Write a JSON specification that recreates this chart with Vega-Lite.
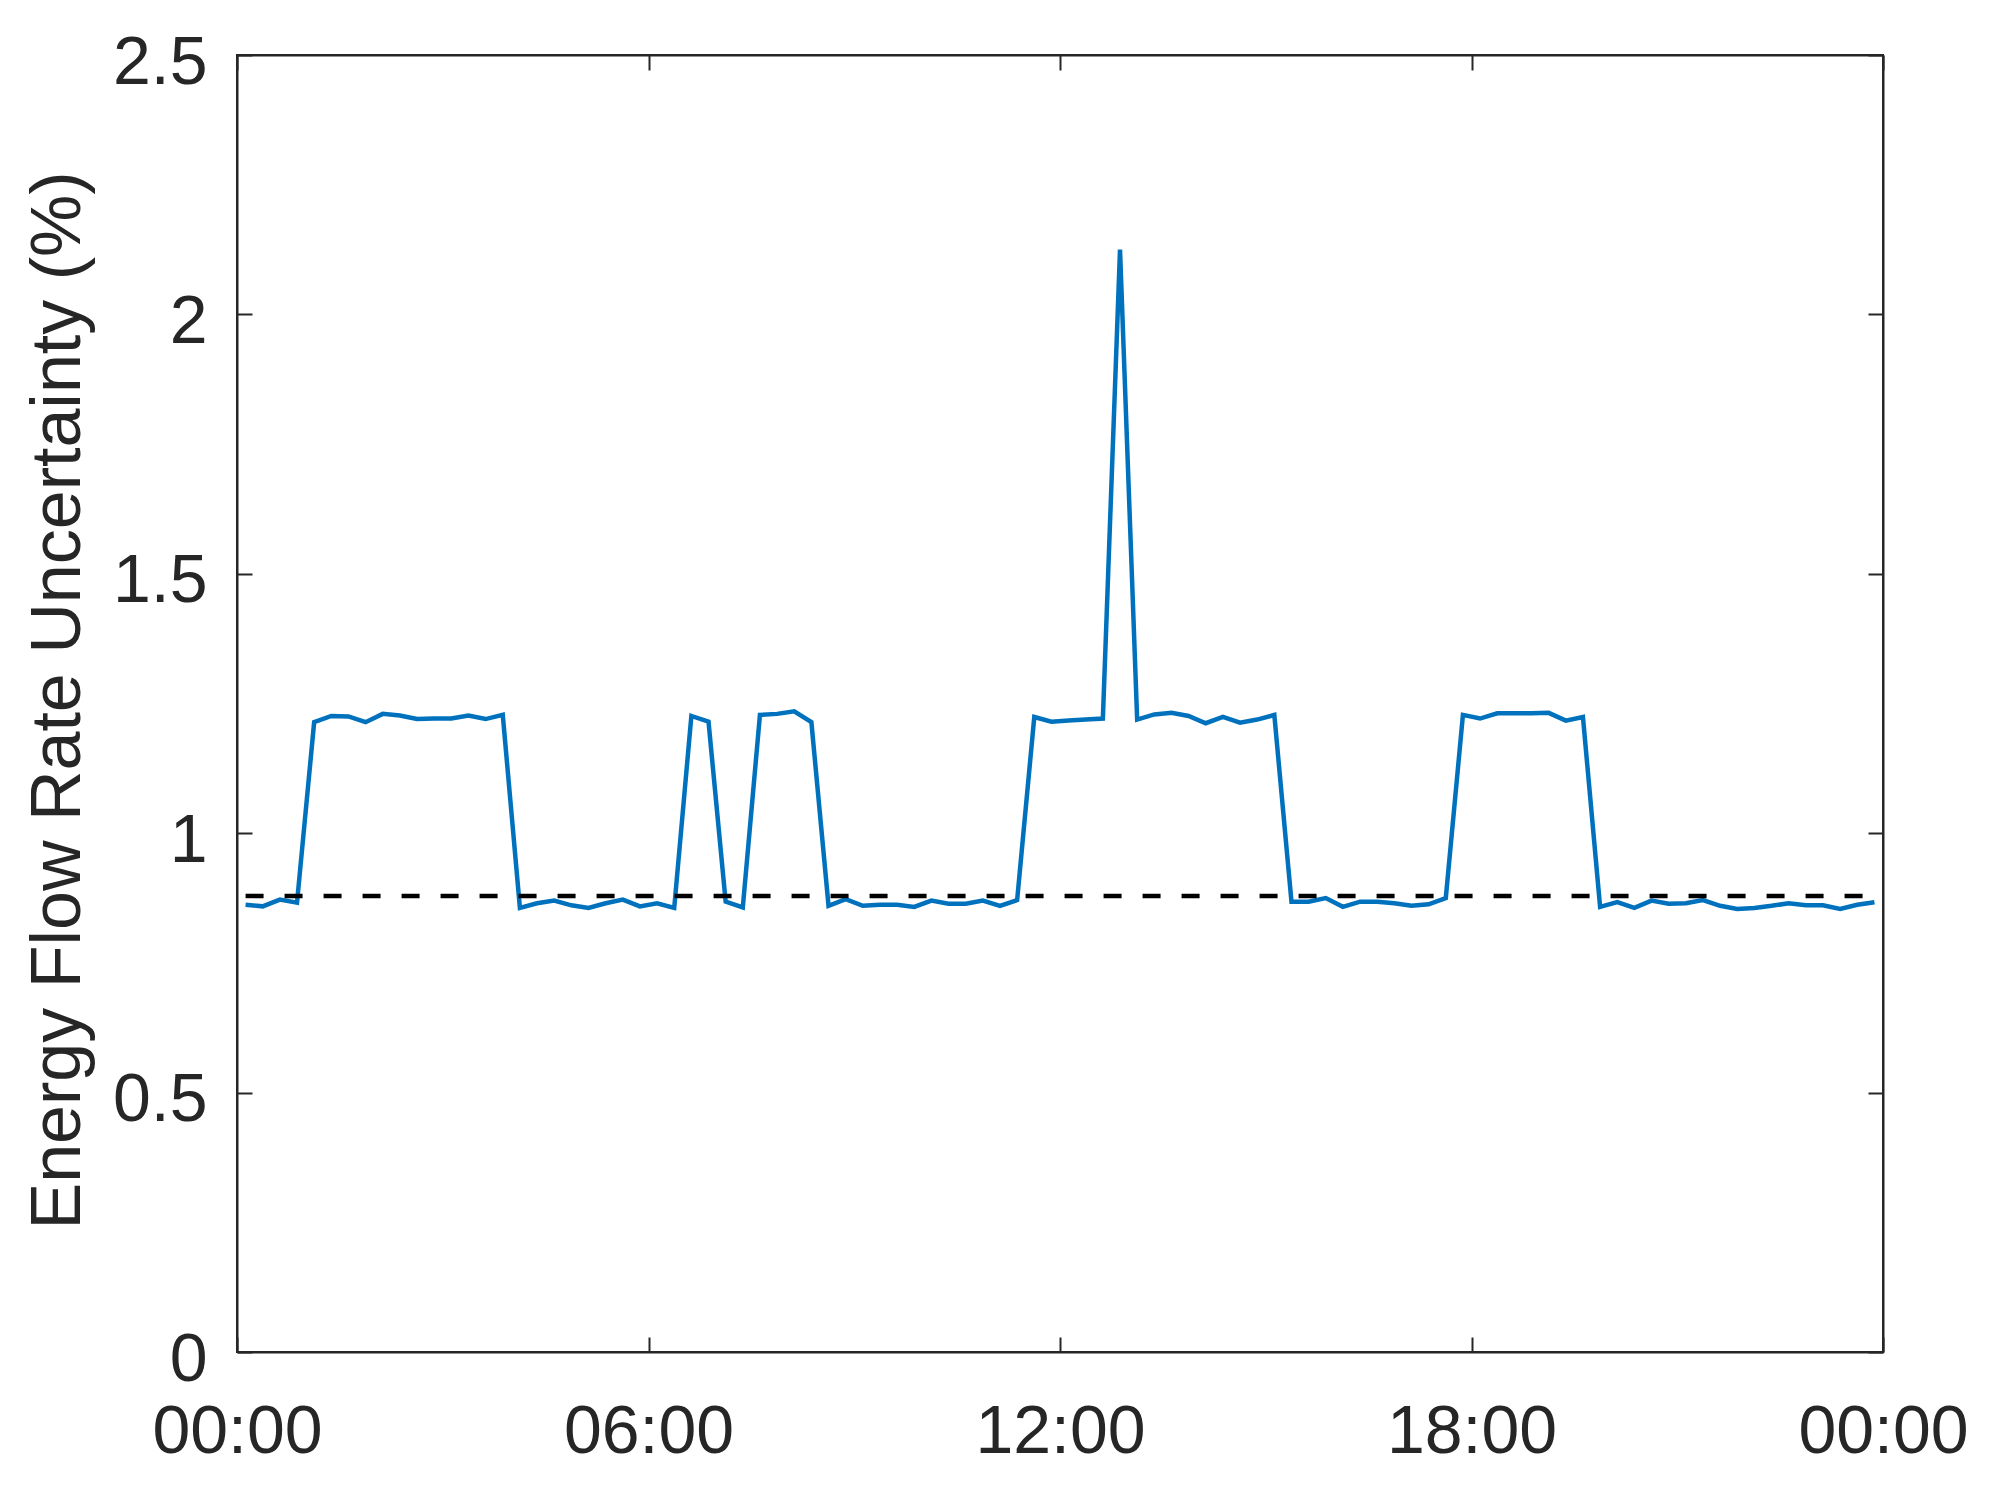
{
  "$schema": "https://vega.github.io/schema/vega-lite/v6.json",
  "width": 1646,
  "height": 1297,
  "autosize": {"type": "none"},
  "padding": {"left": 237, "top": 55, "right": 113, "bottom": 141},
  "background": "white",
  "config": {
    "view": {"stroke": "#262626", "strokeWidth": 2},
    "axis": {
      "grid": false,
      "labelFont": "Liberation Sans",
      "titleFont": "Liberation Sans",
      "labelColor": "#262626",
      "titleColor": "#262626",
      "domainColor": "#262626",
      "tickColor": "#262626",
      "domainWidth": 2,
      "tickWidth": 2,
      "tickSize": -15,
      "labelFontSize": 68,
      "titleFontSize": 70,
      "titleFontWeight": "normal",
      "labelFlush": false,
      "labelOverlap": false,
      "labelBound": false
    }
  },
  "datasets": {
    "series": [
      {"t": 0.125, "u": 0.862}, {"t": 0.375, "u": 0.859}, {"t": 0.625, "u": 0.872}, {"t": 0.875, "u": 0.866},
      {"t": 1.125, "u": 1.214}, {"t": 1.375, "u": 1.226}, {"t": 1.625, "u": 1.225}, {"t": 1.875, "u": 1.214},
      {"t": 2.125, "u": 1.23}, {"t": 2.375, "u": 1.227}, {"t": 2.625, "u": 1.22}, {"t": 2.875, "u": 1.221},
      {"t": 3.125, "u": 1.221}, {"t": 3.375, "u": 1.227}, {"t": 3.625, "u": 1.22}, {"t": 3.875, "u": 1.228},
      {"t": 4.125, "u": 0.856}, {"t": 4.375, "u": 0.865}, {"t": 4.625, "u": 0.87}, {"t": 4.875, "u": 0.861},
      {"t": 5.125, "u": 0.856}, {"t": 5.375, "u": 0.865}, {"t": 5.625, "u": 0.872}, {"t": 5.875, "u": 0.859},
      {"t": 6.125, "u": 0.865}, {"t": 6.375, "u": 0.856}, {"t": 6.625, "u": 1.226}, {"t": 6.875, "u": 1.215},
      {"t": 7.125, "u": 0.868}, {"t": 7.375, "u": 0.857}, {"t": 7.625, "u": 1.228}, {"t": 7.875, "u": 1.23},
      {"t": 8.125, "u": 1.235}, {"t": 8.375, "u": 1.214}, {"t": 8.625, "u": 0.86}, {"t": 8.875, "u": 0.873},
      {"t": 9.125, "u": 0.86}, {"t": 9.375, "u": 0.862}, {"t": 9.625, "u": 0.862}, {"t": 9.875, "u": 0.858},
      {"t": 10.125, "u": 0.87}, {"t": 10.375, "u": 0.864}, {"t": 10.625, "u": 0.864}, {"t": 10.875, "u": 0.87},
      {"t": 11.125, "u": 0.86}, {"t": 11.375, "u": 0.871}, {"t": 11.625, "u": 1.224}, {"t": 11.875, "u": 1.215},
      {"t": 12.125, "u": 1.217}, {"t": 12.375, "u": 1.219}, {"t": 12.625, "u": 1.221}, {"t": 12.875, "u": 2.125},
      {"t": 13.125, "u": 1.219}, {"t": 13.375, "u": 1.229}, {"t": 13.625, "u": 1.232}, {"t": 13.875, "u": 1.226},
      {"t": 14.125, "u": 1.212}, {"t": 14.375, "u": 1.224}, {"t": 14.625, "u": 1.213}, {"t": 14.875, "u": 1.219},
      {"t": 15.125, "u": 1.228}, {"t": 15.375, "u": 0.868}, {"t": 15.625, "u": 0.868}, {"t": 15.875, "u": 0.875},
      {"t": 16.125, "u": 0.858}, {"t": 16.375, "u": 0.868}, {"t": 16.625, "u": 0.868}, {"t": 16.875, "u": 0.865},
      {"t": 17.125, "u": 0.86}, {"t": 17.375, "u": 0.863}, {"t": 17.625, "u": 0.875}, {"t": 17.875, "u": 1.228},
      {"t": 18.125, "u": 1.221}, {"t": 18.375, "u": 1.231}, {"t": 18.625, "u": 1.231}, {"t": 18.875, "u": 1.231},
      {"t": 19.125, "u": 1.232}, {"t": 19.375, "u": 1.217}, {"t": 19.625, "u": 1.224}, {"t": 19.875, "u": 0.858},
      {"t": 20.125, "u": 0.867}, {"t": 20.375, "u": 0.856}, {"t": 20.625, "u": 0.87}, {"t": 20.875, "u": 0.864},
      {"t": 21.125, "u": 0.865}, {"t": 21.375, "u": 0.871}, {"t": 21.625, "u": 0.86}, {"t": 21.875, "u": 0.854},
      {"t": 22.125, "u": 0.856}, {"t": 22.375, "u": 0.86}, {"t": 22.625, "u": 0.865}, {"t": 22.875, "u": 0.861},
      {"t": 23.125, "u": 0.861}, {"t": 23.375, "u": 0.854}, {"t": 23.625, "u": 0.862}, {"t": 23.875, "u": 0.867}
    ],
    "reference": [
      {"t": 0.125, "u": 0.879},
      {"t": 23.875, "u": 0.879}
    ]
  },
  "resolve": {"axis": {"x": "independent", "y": "independent"}},
  "layer": [
    {
      "data": {"name": "series"},
      "mark": {"type": "line", "color": "#0072BD", "strokeWidth": 4.5},
      "encoding": {
        "x": {
          "field": "t", "type": "quantitative",
          "scale": {"domain": [0, 24], "nice": false, "zero": false},
          "axis": {
            "orient": "bottom", "title": null,
            "values": [0, 6, 12, 18, 24],
            "labelExpr": "datum.value == 24 ? '00:00' : (datum.value < 10 ? '0' : '') + datum.value + ':00'",
            "labelBaseline": "top",
            "labelPadding": 61
          }
        },
        "y": {
          "field": "u", "type": "quantitative",
          "scale": {"domain": [0, 2.5], "nice": false},
          "axis": {
            "orient": "left",
            "values": [0, 0.5, 1, 1.5, 2, 2.5],
            "format": "~g",
            "labelPadding": 45,
            "labelBaseline": "middle",
            "labelOffset": 8,
            "title": "Energy Flow Rate Uncertainty (%)",
            "titleAngle": -90,
            "titleX": -158,
            "titleY": 645,
            "titleAlign": "center",
            "titleBaseline": "alphabetic"
          }
        }
      }
    },
    {
      "data": {"name": "reference"},
      "mark": {"type": "line", "color": "#000000", "strokeWidth": 4.5, "strokeDash": [18, 21]},
      "encoding": {
        "x": {
          "field": "t", "type": "quantitative",
          "scale": {"domain": [0, 24], "nice": false, "zero": false},
          "axis": {"orient": "top", "title": null, "values": [0, 6, 12, 18, 24], "labels": false}
        },
        "y": {
          "field": "u", "type": "quantitative",
          "scale": {"domain": [0, 2.5], "nice": false},
          "axis": {"orient": "right", "title": null, "values": [0, 0.5, 1, 1.5, 2, 2.5], "labels": false}
        }
      }
    }
  ]
}
